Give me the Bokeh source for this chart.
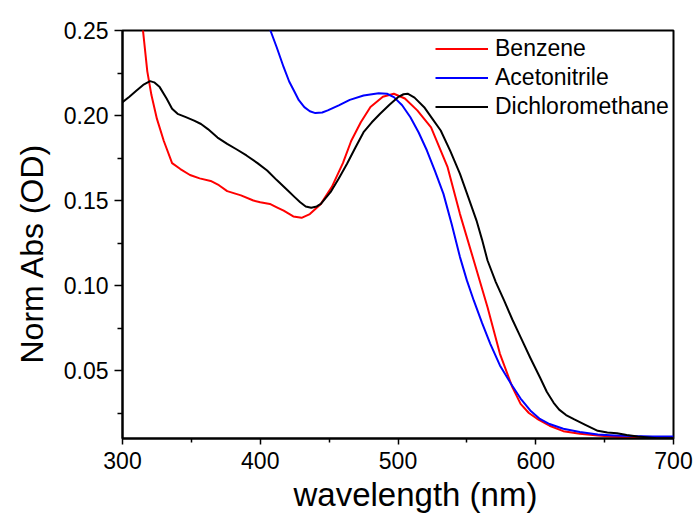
import numpy as np
from bokeh.plotting import figure
from bokeh.models import Range1d, FixedTicker, Legend, LegendItem, Title
from bokeh.embed import file_html
from bokeh.resources import INLINE

# ---------------- data ----------------
benzene_wl = [313, 315, 318, 321, 325, 330, 336, 342, 349, 356, 364, 370, 376, 386, 395,
              400, 407, 412, 417, 424, 430, 436, 440, 444, 452, 460, 466, 473, 480, 489,
              497, 505, 514, 524, 536, 545, 555, 565, 574, 583, 589, 595, 601, 610, 620,
              632, 645, 657, 669, 685, 700]
benzene_abs = [0.262, 0.249, 0.226, 0.212, 0.198, 0.185, 0.172, 0.1685, 0.165, 0.163, 0.1615,
               0.159, 0.1555, 0.153, 0.150, 0.149, 0.148, 0.146, 0.144, 0.1406, 0.1398, 0.142,
               0.145, 0.148, 0.158, 0.172, 0.185, 0.196, 0.205, 0.211, 0.2128, 0.210, 0.203,
               0.193, 0.1696, 0.142, 0.1147, 0.0872, 0.0598, 0.0402, 0.0304, 0.025, 0.0216,
               0.0175, 0.0143, 0.0128, 0.0118, 0.011, 0.0104, 0.0102, 0.0102]

acetonitrile_wl = [405, 407.4, 412, 417, 421, 424.4, 428, 432, 436, 440, 445, 449, 457, 465,
                   475, 486, 492, 497, 503, 509, 515, 521, 527, 533, 539, 545, 550, 555, 561,
                   567, 574, 582, 589, 596, 603, 610, 620, 632, 645, 657, 669, 685, 700]
acetonitrile_abs = [0.262, 0.25, 0.24, 0.2284, 0.220, 0.2147, 0.209, 0.2049, 0.2025, 0.2014,
                    0.2018, 0.203, 0.206, 0.2092, 0.2118, 0.2131, 0.2128, 0.2108, 0.206, 0.199,
                    0.190, 0.1794, 0.167, 0.1539, 0.136, 0.1167, 0.103, 0.0912, 0.078, 0.0657,
                    0.053, 0.0422, 0.0335, 0.0265, 0.0215, 0.0185, 0.0157, 0.0138, 0.0124,
                    0.0118, 0.0114, 0.0112, 0.0112]

dcm_wl = [300, 305, 310, 315, 320, 323, 327, 332, 336, 340, 346, 352, 357, 362, 369, 376,
          383, 390, 398, 405, 412, 420, 425, 429, 433, 437, 441, 444, 451, 457, 463, 469,
          475, 481, 487, 494, 500, 504, 507, 512, 519, 525, 531, 538, 545, 551, 557, 561,
          565, 571, 577, 583, 589, 596, 603, 608, 613, 617, 622, 628, 636, 645, 652, 659,
          666, 674, 688, 700]
dcm_abs = [0.2078, 0.211, 0.2145, 0.218, 0.2202, 0.2195, 0.2167, 0.210, 0.204, 0.201, 0.199,
           0.197, 0.195, 0.192, 0.187, 0.1833, 0.180, 0.1765, 0.172, 0.1676, 0.162, 0.1559,
           0.152, 0.149, 0.1465, 0.1457, 0.1465, 0.148, 0.1549, 0.163, 0.1716, 0.181, 0.1902,
           0.196, 0.201, 0.2065, 0.2108, 0.2125, 0.2128, 0.2105, 0.2049, 0.198, 0.1912, 0.179,
           0.1657, 0.152, 0.1382, 0.127, 0.1147, 0.102, 0.0912, 0.080, 0.0696, 0.0575, 0.046,
           0.0375, 0.031, 0.027, 0.0238, 0.0212, 0.018, 0.0145, 0.0135, 0.0131, 0.012, 0.0112,
           0.0102, 0.0102]

series_names = ["Benzene", "Acetonitrile", "Dichloromethane"]
series_colors = ["#ff0000", "#0000ff", "#000000"]

x_ticks = [300, 400, 500, 600, 700]
x_tick_labels = ["300", "400", "500", "600", "700"]
x_minor = [350, 450, 550, 650]
y_ticks = [0.05, 0.10, 0.15, 0.20, 0.25]
y_tick_labels = ["0.05", "0.10", "0.15", "0.20", "0.25"]
y_minor = [0.025, 0.075, 0.125, 0.175, 0.225]

x_title = "wavelength (nm)"
y_title = "Norm Abs (OD)"

FONT = "Liberation Sans"

# ---------------- figure ----------------
p = figure(width=697, height=517, output_backend="svg", toolbar_location=None,
           x_range=Range1d(300, 700), y_range=Range1d(0.01, 0.25),
           min_border_left=122, min_border_right=24, min_border_top=30, min_border_bottom=79)
p.xgrid.visible = False
p.ygrid.visible = False
p.outline_line_color = "black"
p.outline_line_width = 2
p.background_fill_color = "white"
p.border_fill_color = "white"

xa = p.xaxis[0]
xa.ticker = FixedTicker(ticks=x_ticks, minor_ticks=x_minor)
xa.major_label_overrides = dict(zip(x_ticks, x_tick_labels))
ya = p.yaxis[0]
ya.ticker = FixedTicker(ticks=y_ticks, minor_ticks=y_minor)
ya.major_label_overrides = dict(zip(y_ticks, y_tick_labels))

for ax, tout, mout, stand in ((xa, 6, 4, 7), (ya, 8, 5, 6)):
    ax.axis_line_width = 2
    ax.axis_line_color = "black"
    ax.major_tick_in = 0
    ax.major_tick_out = tout
    ax.minor_tick_in = 0
    ax.minor_tick_out = mout
    ax.major_tick_line_width = 1.5
    ax.minor_tick_line_width = 1.5
    ax.major_label_text_font = FONT
    ax.major_label_text_font_size = "23px"
    ax.major_label_text_color = "black"
    ax.major_label_standoff = stand

# ---------------- curves ----------------
renderers = []
for wl, ab, c in ((benzene_wl, benzene_abs, series_colors[0]),
                  (acetonitrile_wl, acetonitrile_abs, series_colors[1]),
                  (dcm_wl, dcm_abs, series_colors[2])):
    r = p.line(wl, ab, line_color=c, line_width=2, line_join="round")
    renderers.append(r)

legend = Legend(items=[LegendItem(label=n, renderers=[r]) for n, r in zip(series_names, renderers)],
                location=(313, 317))
legend.border_line_color = None
legend.background_fill_alpha = 0
legend.padding = 0
legend.margin = 0
legend.spacing = 0
legend.glyph_width = 53
legend.glyph_height = 29
legend.label_height = 29
legend.label_standoff = 7
legend.label_text_font = FONT
legend.label_text_font_size = "23px"
legend.label_text_color = "black"
p.add_layout(legend)

# ---------------- axis titles ----------------
xt = Title(text=x_title, align="left", offset=171, standoff=4,
           text_font=FONT, text_font_size="33px", text_font_style="normal",
           text_color="black")
p.add_layout(xt, "below")
yt = Title(text=y_title, align="left", offset=75, standoff=21,
           text_font=FONT, text_font_size="32px", text_font_style="normal",
           text_color="black")
p.add_layout(yt, "left")

open("out.html", "w").write(file_html(p, INLINE))
